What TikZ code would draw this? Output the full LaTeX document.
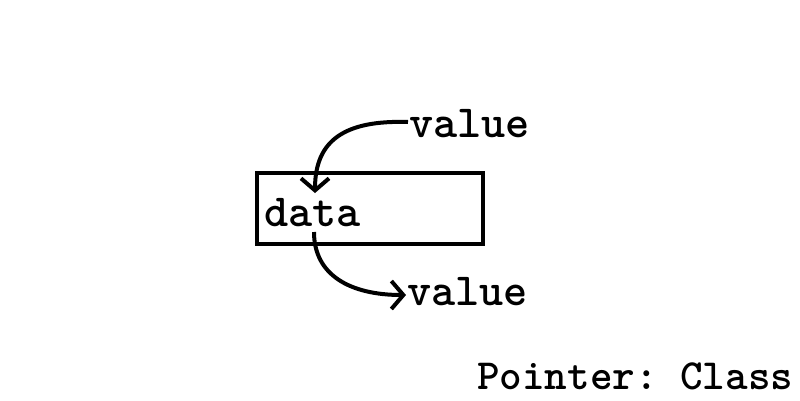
\documentclass[tikz,border=0pt]{standalone}
\usetikzlibrary{arrows.meta}
\begin{document}
\begin{tikzpicture}[x=1pt,y=-1pt,
  lbl/.style={anchor=base west,inner sep=0pt,font=\fontsize{46}{46}\selectfont\ttfamily\bfseries},
  ttl/.style={anchor=base west,inner sep=0pt,font=\fontsize{43}{43}\selectfont\ttfamily\bfseries},
  conn/.style={line width=4pt,-{Straight Barb[length=12pt,width=28pt,line width=4pt]}}]
\useasboundingbox (0,0) rectangle (800,400);
\draw[line width=4pt] (257,173) rectangle (483,244);
\node[lbl] (data) at (264,226) {data};
\node[lbl] (v1) at (409,137) {value};
\node[lbl] (v2) at (407,305) {value};
\node[ttl] (title) at (477,389) {Pointer:\ Class};
\coordinate (s1) at (408,122);
\coordinate (e1) at (315,193);
\coordinate (s2) at (314,232);
\coordinate (e2) at (406,295);
\draw[conn] (s1) .. controls (345,120) and (315,140) .. (e1);
\draw[conn] (s2) .. controls (314,275) and (350,295) .. (e2);
\end{tikzpicture}
\end{document}
